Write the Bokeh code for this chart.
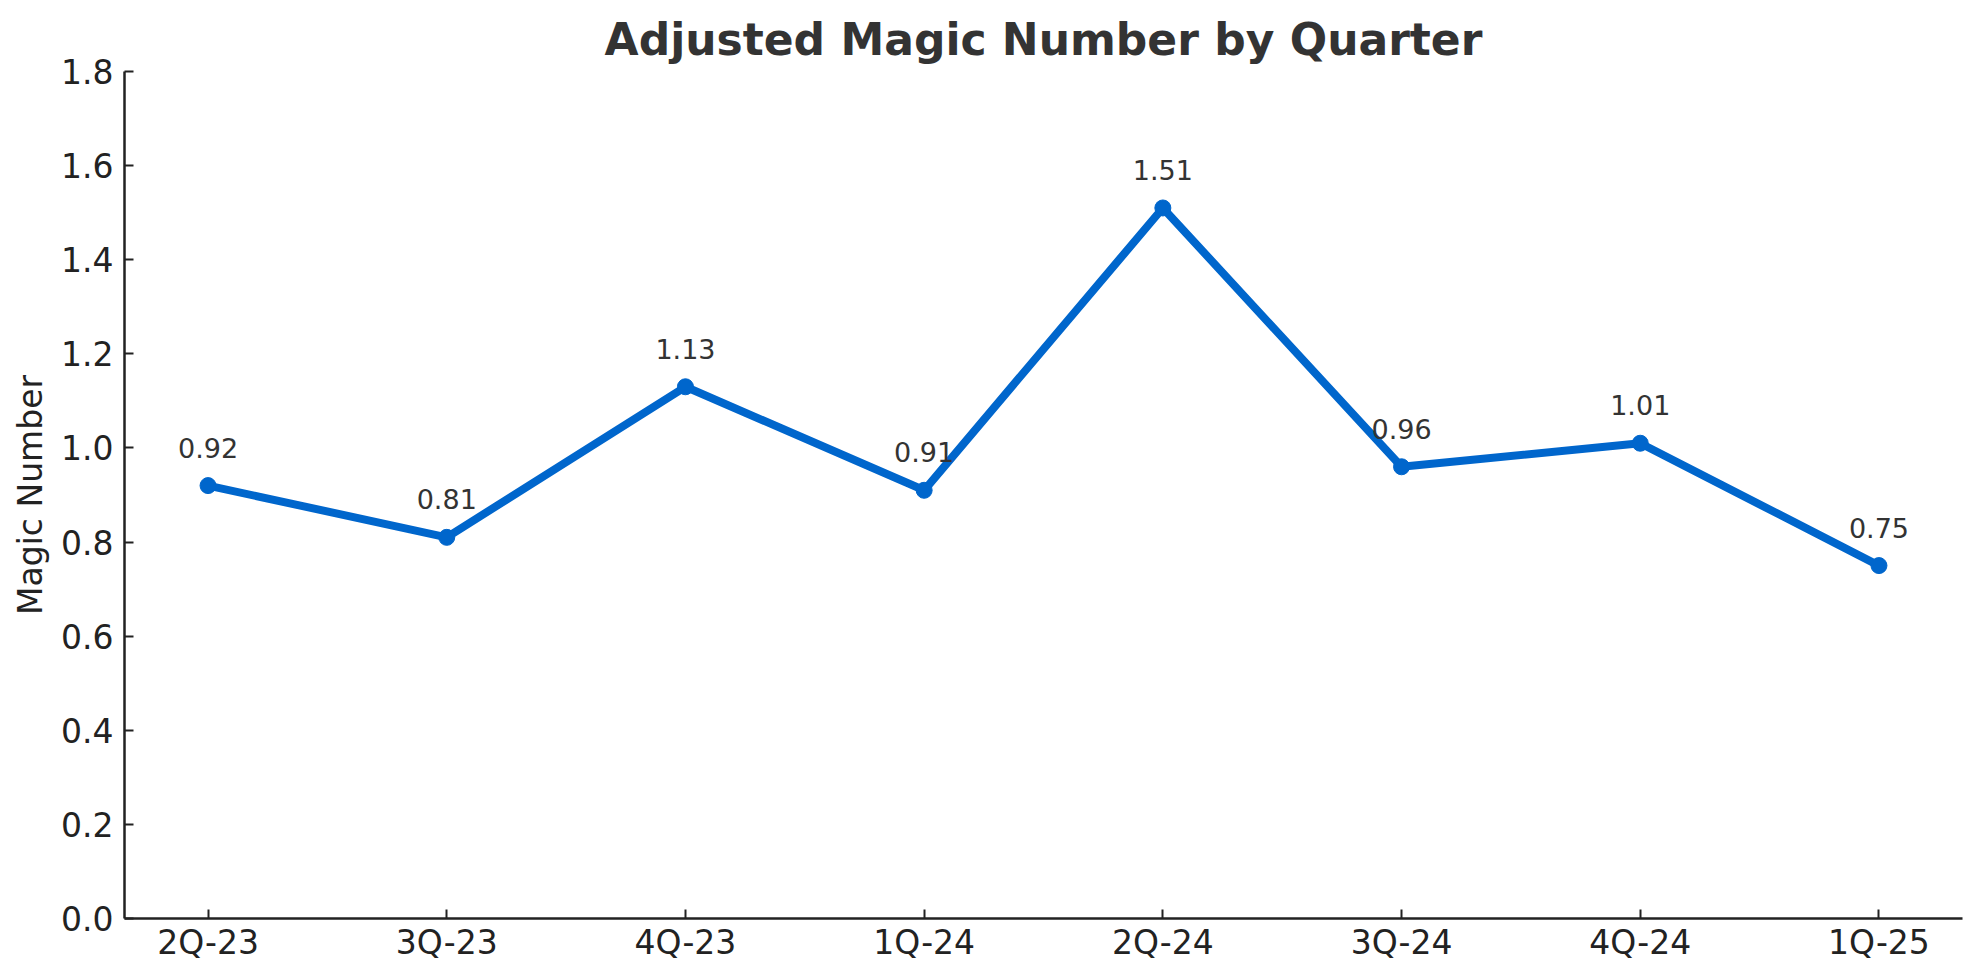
from bokeh.plotting import figure
from bokeh.models import FixedTicker, Range1d, ColumnDataSource, LabelSet
from bokeh.core.properties import value
from bokeh.embed import file_html
from bokeh.resources import INLINE

quarters = ["2Q-23", "3Q-23", "4Q-23", "1Q-24", "2Q-24", "3Q-24", "4Q-24", "1Q-25"]
magic = [0.92, 0.81, 1.13, 0.91, 1.51, 0.96, 1.01, 0.75]
y_ticks = [0.0, 0.2, 0.4, 0.6, 0.8, 1.0, 1.2, 1.4, 1.6, 1.8]

FONT = "DejaVu Sans"
BLUE = "#0066CC"

xs = list(range(len(quarters)))
src = ColumnDataSource(dict(x=xs, y=magic, lbl=[f"{v:.2f}" for v in magic]))

p = figure(width=1963, height=964, output_backend="svg", toolbar_location=None,
           x_range=Range1d(-0.35, len(quarters) - 1 + 0.35), y_range=Range1d(0, 1.8),
           min_border_left=124, min_border_right=1, min_border_top=71, min_border_bottom=40)
p.title.text = "Adjusted Magic Number by Quarter"
p.title.align = "center"
p.title.text_font = FONT
p.title.text_font_size = "44px"
p.title.text_font_style = "bold"
p.title.text_color = "#333333"
p.title.standoff = 14

p.outline_line_color = None
p.grid.grid_line_color = None
p.background_fill_color = "white"
p.border_fill_color = "white"

for ax in (p.xaxis[0], p.yaxis[0]):
    ax.axis_line_color = "#222222"
    ax.axis_line_width = 2.5
    ax.major_tick_line_color = "#222222"
    ax.major_tick_line_width = 2
    ax.major_tick_in = 9
    ax.major_tick_out = 0
    ax.minor_tick_line_color = None
    ax.major_label_text_font = FONT
    ax.major_label_text_font_size = "33px"
    ax.major_label_text_color = "#222222"

p.xaxis.ticker = FixedTicker(ticks=xs)
p.xaxis.major_label_overrides = {i: q for i, q in enumerate(quarters)}
p.xaxis.major_label_standoff = 4

p.yaxis.ticker = FixedTicker(ticks=y_ticks)
p.yaxis.major_label_overrides = {t: f"{t:.1f}" for t in y_ticks}
p.yaxis.major_label_standoff = 11
p.yaxis.axis_label = "Magic Number"
p.yaxis.axis_label_text_font = FONT
p.yaxis.axis_label_text_font_size = "33px"
p.yaxis.axis_label_text_font_style = "normal"
p.yaxis.axis_label_text_color = "#222222"
p.yaxis.axis_label_standoff = 8

p.line("x", "y", source=src, line_color=BLUE, line_width=8)
p.scatter("x", "y", source=src, size=16, fill_color=BLUE, line_color=BLUE)

labels = LabelSet(x="x", y="y", text="lbl", source=src, text_align="center",
                  text_baseline="bottom", y_offset=28, text_font=value(FONT),
                  text_font_size=value("27px"), text_color="#333333")
p.add_layout(labels)

open("out.html", "w").write(file_html(p, INLINE))
